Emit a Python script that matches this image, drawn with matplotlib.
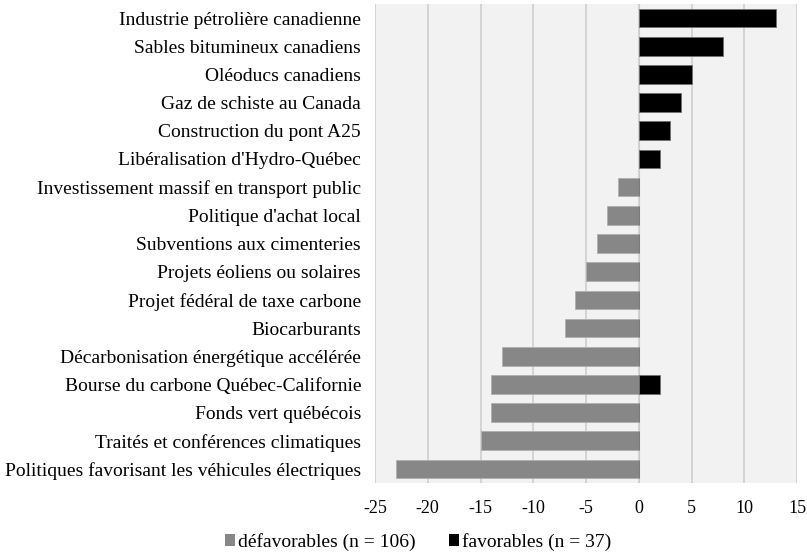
import matplotlib
matplotlib.use("Agg")
import matplotlib.pyplot as plt
from matplotlib.patches import Patch

# Données (de haut en bas)
categories = [
    "Industrie pétrolière canadienne",
    "Sables bitumineux canadiens",
    "Oléoducs canadiens",
    "Gaz de schiste au Canada",
    "Construction du pont A25",
    "Libéralisation d'Hydro-Québec",
    "Investissement massif en transport public",
    "Politique d'achat local",
    "Subventions aux cimenteries",
    "Projets éoliens ou solaires",
    "Projet fédéral de taxe carbone",
    "Biocarburants",
    "Décarbonisation énergétique accélérée",
    "Bourse du carbone Québec-Californie",
    "Fonds vert québécois",
    "Traités et conférences climatiques",
    "Politiques favorisant les véhicules électriques",
]
defavorables = [0, 0, 0, 0, 0, 0, -2, -3, -4, -5, -6, -7, -13, -14, -14, -15, -23]
favorables = [13, 8, 5, 4, 3, 2, 0, 0, 0, 0, 0, 0, 0, 2, 0, 0, 0]
xticks = list(range(-25, 20, 5))

plt.rcParams['font.family'] = ['Liberation Serif', 'DejaVu Serif']

fig = plt.figure(figsize=(8.07, 5.55), dpi=100)
ax = fig.add_axes([375 / 807, 1 - 483 / 555, 422 / 807, 479 / 555])
ax.set_facecolor("#f2f2f2")

y = list(range(len(categories)))
ax.barh(y, defavorables, height=0.66, color="#878787", edgecolor="#b0b0b0", linewidth=0.6, zorder=3)
ax.barh(y, favorables, height=0.66, color="#000000", edgecolor="#707070", linewidth=0.6, zorder=3)

ax.set_yticks(y)
ax.set_yticklabels(categories, fontsize=14)
ax.set_ylim(len(categories) - 0.5, -0.5)
ax.set_xlim(-25, 15)
ax.set_xticks(xticks)
ax.set_xticklabels([str(t) for t in xticks], fontsize=13)
ax.tick_params(axis='y', length=0, pad=10)
ax.tick_params(axis='x', length=0, pad=12)

ax.grid(axis='x', color="#d4d4d4", linewidth=1.4, zorder=0)
ax.set_axisbelow(True)
for s in ax.spines.values():
    s.set_visible(False)
ax.axvline(0, color="#cccccc", linewidth=0.8, zorder=2)

handles = [Patch(facecolor="#878787", label="défavorables (n = 106)"),
           Patch(facecolor="#000000", label="favorables (n = 37)")]
fig.legend(handles=handles, loc='center', bbox_to_anchor=(418 / 807, 1 - 542 / 555),
           ncol=2, frameon=False, fontsize=14, handlelength=0.5, handleheight=0.5,
           handletextpad=0.15, columnspacing=1.75)

fig.savefig("out.png", dpi=100)
